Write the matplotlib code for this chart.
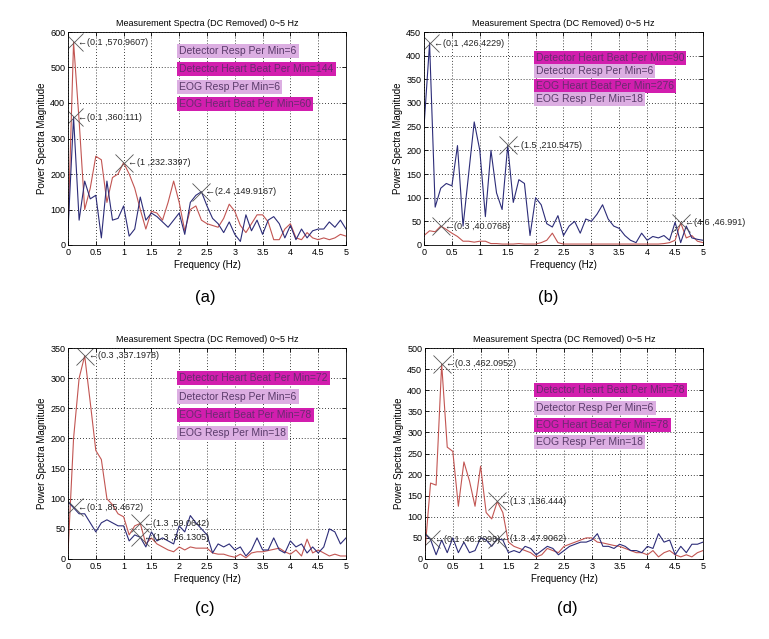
import numpy as np
import matplotlib
matplotlib.use("Agg")
import matplotlib.pyplot as plt

plt.rcParams['font.family'] = ['Liberation Sans', 'DejaVu Sans']

freq = [round(0.1 * i, 1) for i in range(51)]

# Panel (a)
a_red = [40, 571, 350, 100, 160, 250, 240, 120, 190, 200, 232, 200, 160, 100, 45, 95, 90, 70, 120, 180,
         120, 40, 100, 110, 70, 60, 55, 50, 75, 115, 95, 55, 35, 60, 85, 85, 65, 15, 15, 45,
         60, 20, 15, 35, 20, 15, 20, 15, 20, 30, 25]
a_blue = [40, 360, 70, 180, 130, 140, 20, 180, 70, 75, 110, 25, 45, 135, 70, 90, 80, 65, 50, 70,
          90, 30, 120, 140, 150, 110, 75, 60, 35, 65, 30, 10, 85, 40, 70, 30, 70, 80, 60, 20,
          55, 15, 45, 20, 40, 45, 45, 65, 50, 70, 45]
# Panel (b)
b_red = [20, 30, 28, 40, 33, 25, 18, 8, 8, 6, 8, 8, 3, 3, 2, 2, 2, 3, 2, 2,
         2, 5, 10, 25, 5, 2, 2, 2, 2, 2, 2, 2, 2, 2, 2, 2, 2, 2, 2, 2,
         2, 2, 2, 3, 5, 10, 47, 15, 20, 8, 5]
b_blue = [250, 426, 80, 120, 130, 125, 210, 40, 150, 260, 200, 60, 200, 110, 75, 210, 90, 138, 130, 20,
          100, 85, 45, 38, 62, 20, 40, 50, 25, 55, 50, 65, 85, 55, 40, 35, 20, 10, 5, 25,
          10, 18, 15, 20, 10, 48, 5, 40, 15, 12, 10]
# Panel (c)
c_red = [10, 200, 300, 337, 260, 180, 165, 100, 90, 75, 70, 40, 55, 59, 25, 35, 25, 20, 15, 12,
         20, 15, 20, 18, 18, 18, 10, 8, 8, 5, 3, 8, 2, 10, 12, 12, 14, 16, 18, 12,
         8, 15, 5, 33, 10, 15, 10, 5, 8, 5, 5]
c_blue = [95, 85, 75, 75, 60, 45, 60, 65, 60, 55, 55, 30, 40, 36, 20, 45, 30, 35, 30, 25,
          55, 45, 72, 60, 50, 40, 10, 25, 20, 25, 15, 20, 5, 15, 35, 15, 15, 35, 15, 10,
          30, 20, 25, 10, 20, 10, 20, 50, 45, 25, 35]
# Panel (d)
d_red = [20, 180, 175, 462, 265, 255, 125, 230, 185, 125, 220, 110, 95, 136, 110, 40, 30, 25, 20, 15,
         5, 10, 25, 20, 15, 30, 35, 40, 45, 50, 50, 40, 38, 35, 32, 30, 25, 20, 15, 15,
         10, 20, 5, 15, 20, 10, 5, 10, 5, 15, 20]
d_blue = [60, 46, 10, 45, 15, 50, 15, 40, 15, 20, 50, 45, 30, 48, 45, 15, 20, 15, 30, 25,
          10, 20, 30, 25, 10, 20, 30, 35, 40, 40, 45, 60, 30, 30, 25, 35, 30, 20, 20, 15,
          30, 25, 60, 40, 45, 10, 30, 15, 35, 35, 40]

panels = [
    dict(red=a_red, blue=a_blue, ymax=600, ystep=100, label='(a)',
         marks=[(0.1, 570.9607, '(0.1 ,570.9607)'), (0.1, 360.111, '(0.1 ,360.111)'),
                (1.0, 232.3397, '(1 ,232.3397)'), (2.4, 149.9167, '(2.4 ,149.9167)')],
         boxes=[('Detector Resp Per Min=6', False), ('Detector Heart Beat Per Min=144', True),
                ('EOG Resp Per Min=6', False), ('EOG Heart Beat Per Min=60', True)],
         box_y=[0.91, 0.826, 0.742, 0.662]),
    dict(red=b_red, blue=b_blue, ymax=450, ystep=50, label='(b)',
         marks=[(0.1, 426.4229, '(0.1 ,426.4229)'), (1.5, 210.5475, '(1.5 ,210.5475)'),
                (0.3, 40.0768, '(0.3 ,40.0768)'), (4.6, 46.991, '(4.6 ,46.991)')],
         boxes=[('Detector Heart Beat Per Min=90', True), ('Detector Resp Per Min=6', False),
                ('EOG Heart Beat Per Min=276', True), ('EOG Resp Per Min=18', False)],
         box_y=[0.878, 0.815, 0.746, 0.685]),
    dict(red=c_red, blue=c_blue, ymax=350, ystep=50, label='(c)',
         marks=[(0.3, 337.1978, '(0.3 ,337.1978)'), (0.1, 85.4672, '(0.1 ,85.4672)'),
                (1.3, 59.0642, '(1.3 ,59.0642)'), (1.3, 36.1305, '(1.3 ,36.1305)')],
         boxes=[('Detector Heart Beat Per Min=72', True), ('Detector Resp Per Min=6', False),
                ('EOG Heart Beat Per Min=78', True), ('EOG Resp Per Min=18', False)],
         box_y=[0.858, 0.77, 0.682, 0.597]),
    dict(red=d_red, blue=d_blue, ymax=500, ystep=50, label='(d)',
         marks=[(0.3, 462.0952, '(0.3 ,462.0952)'), (1.3, 136.444, '(1.3 ,136.444)'),
                (0.1, 46.2098, '(0.1 ,46.2098)'), (1.3, 47.9062, '(1.3 ,47.9062)')],
         boxes=[('Detector Heart Beat Per Min=78', True), ('Detector Resp Per Min=6', False),
                ('EOG Heart Beat Per Min=78', True), ('EOG Resp Per Min=18', False)],
         box_y=[0.80, 0.716, 0.635, 0.555]),
]

positions = [
    [68/769, 1-245/639, 278/769, 213/639],
    [424/769, 1-245/639, 279/769, 213/639],
    [68/769, 1-559/639, 278/769, 211/639],
    [425/769, 1-559/639, 278/769, 211/639],
]
label_pos = [(205/769, 1-297/639), (548/769, 1-297/639), (205/769, 1-608/639), (567/769, 1-608/639)]

fig = plt.figure(figsize=(7.69, 6.39), dpi=100)
fig.patch.set_facecolor('white')

RED = '#c25552'
BLUE = '#2c2c78'
MAG = '#d21eae'
LIGHT = '#dcaee2'

for p, pos, lp in zip(panels, positions, label_pos):
    ax = fig.add_axes(pos)
    ax.plot(freq, p['red'], color=RED, lw=0.8)
    ax.plot(freq, p['blue'], color=BLUE, lw=0.8)
    ax.set_xlim(0, 5)
    ax.set_ylim(0, p['ymax'])
    ax.set_xticks(np.arange(0, 5.01, 0.5))
    ax.set_xticklabels(['0', '0.5', '1', '1.5', '2', '2.5', '3', '3.5', '4', '4.5', '5'])
    ax.set_yticks(np.arange(0, p['ymax'] + 1, p['ystep']))
    ax.tick_params(direction='in', labelsize=6.5, length=3, width=0.6, top=True, right=True, pad=2)
    ax.grid(True, color='black', linestyle=(0, (1, 2.5)), lw=0.6)
    for s in ax.spines.values():
        s.set_linewidth(0.6)
    ax.set_title('Measurement Spectra (DC Removed) 0~5 Hz', fontsize=6.5, pad=4)
    ax.set_xlabel('Frequency (Hz)', fontsize=7, labelpad=2)
    ax.set_ylabel('Power Spectra Magnitude', fontsize=7, labelpad=2)
    for (mx, my, txt) in p['marks']:
        ax.plot([mx], [my], marker='x', ms=13, mew=0.6, color='#555555', ls='none')
        ax.annotate('\u2190' + txt, (mx, my), xytext=(3, 0), textcoords='offset points',
                    fontsize=6.5, va='center', ha='left', color='#222222', annotation_clip=False)
    for (txt, heart), by in zip(p['boxes'], p['box_y']):
        ax.text(0.4, by, txt, transform=ax.transAxes, fontsize=7.5, va='center', ha='left',
                color='#6a2a70' if heart else '#5a3a6a',
                bbox=dict(boxstyle='square,pad=0.2', fc=MAG if heart else LIGHT, ec='none'))
    fig.text(lp[0], lp[1], p['label'], fontsize=12, ha='center', va='center')

fig.savefig('out.png', dpi=100)
